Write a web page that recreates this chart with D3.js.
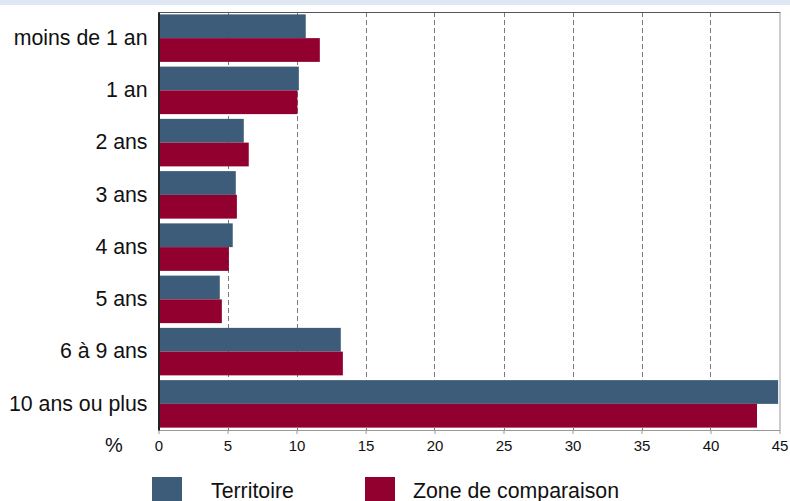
<!DOCTYPE html>
<html>
<head>
<meta charset="utf-8">
<script src="https://cdn.jsdelivr.net/npm/d3@7"></script>
<style>
  html, body { margin: 0; padding: 0; background: #fff; }
  svg { display: block; font-family: "Liberation Sans", Arial, sans-serif; }
</style>
</head>
<body>
<svg id="chart" width="790" height="501"></svg>
<script>
// Durée d'occupation : part des ménages (%)
const categories = ["moins de 1 an", "1 an", "2 ans", "3 ans", "4 ans", "5 ans", "6 à 9 ans", "10 ans ou plus"];
const territoire = [10.67, 10.17, 6.18, 5.6, 5.38, 4.44, 13.21, 44.9];
const zoneComparaison = [11.69, 10.07, 6.54, 5.68, 5.1, 4.59, 13.36, 43.37];
const seriesNames = ["Territoire", "Zone de comparaison"];
const seriesColors = ["#3d5c7a", "#91002f"];
const xTicks = [0, 5, 10, 15, 20, 25, 30, 35, 40, 45];

const svg = d3.select("#chart");
const W = 790, H = 501;
const plotLeft = 158.5, plotRight = 779.5, plotTop = 12, plotBottom = 430;

// light band across the top
svg.append("rect").attr("x", 0).attr("y", 0).attr("width", W).attr("height", 5).attr("fill", "#dfe8f2");

const x = d3.scaleLinear().domain([0, 45]).range([plotLeft, plotRight]);
const y = d3.scaleBand().domain(categories).range([plotTop, plotBottom]).padding(0);
const ySub = d3.scaleBand().domain(seriesNames).range([0, y.bandwidth()]).paddingInner(0).paddingOuter(0.1);

const rows = categories.map((c, i) => ({ cat: c, values: [territoire[i], zoneComparaison[i]] }));

// vertical dashed gridlines
svg.append("g").selectAll("line").data(xTicks.filter(t => t > 0 && t < 45)).join("line")
  .attr("x1", d => Math.round(x(d)) + 0.5).attr("x2", d => Math.round(x(d)) + 0.5)
  .attr("y1", plotTop).attr("y2", plotBottom)
  .attr("stroke", "#7a7a7a").attr("stroke-width", 1).attr("stroke-dasharray", "5,3");

// bars
const groups = svg.append("g").selectAll("g").data(rows).join("g")
  .attr("transform", d => `translate(0,${y(d.cat)})`);
groups.selectAll("rect").data(d => d.values.map((v, k) => ({ v, k }))).join("rect")
  .attr("x", x(0))
  .attr("y", d => ySub(seriesNames[d.k]))
  .attr("width", d => x(d.v) - x(0))
  .attr("height", ySub.bandwidth())
  .attr("fill", d => seriesColors[d.k]);

// frame: top and right borders
svg.append("line").attr("x1", plotLeft).attr("x2", plotRight + 1).attr("y1", plotTop + 0.5).attr("y2", plotTop + 0.5)
  .attr("stroke", "#555").attr("stroke-width", 1);
svg.append("line").attr("x1", plotRight + 0.5).attr("x2", plotRight + 0.5).attr("y1", plotTop).attr("y2", plotBottom)
  .attr("stroke", "#999").attr("stroke-width", 1);

// bottom axis
const xAxis = d3.axisBottom(x).tickValues(xTicks).tickSize(4).tickSizeOuter(0).tickPadding(6);
const gx = svg.append("g").attr("transform", `translate(0,${plotBottom})`).call(xAxis);
gx.select(".domain").attr("stroke", "#999");
gx.selectAll(".tick line").attr("stroke", "#999");
gx.selectAll(".tick text").attr("font-size", 15).attr("fill", "#111").attr("font-family", "Liberation Sans, Arial, sans-serif");

// left axis
const yAxis = d3.axisLeft(y).tickSize(0).tickPadding(11);
const gy = svg.append("g").attr("transform", `translate(${plotLeft},0)`).call(yAxis);
gy.select(".domain").attr("stroke", "#222").attr("stroke-width", 2);
gy.selectAll(".tick text").attr("font-size", 21.3).attr("fill", "#111").attr("font-family", "Liberation Sans, Arial, sans-serif");

// unit label
svg.append("text").attr("x", 114).attr("y", 452).attr("text-anchor", "middle")
  .attr("font-size", 20).attr("fill", "#111").text("%");

// legend
const legendBoxX = [152, 365];
const legendTextX = [211, 413];
const leg = svg.append("g").selectAll("g").data(seriesNames).join("g");
leg.append("rect").attr("x", (d, i) => legendBoxX[i]).attr("y", 477)
  .attr("width", 30).attr("height", 30).attr("fill", (d, i) => seriesColors[i]);
leg.append("text").attr("x", (d, i) => legendTextX[i]).attr("y", 497.5)
  .attr("font-size", 21.3).attr("fill", "#111").text(d => d);
</script>
</body>
</html>
